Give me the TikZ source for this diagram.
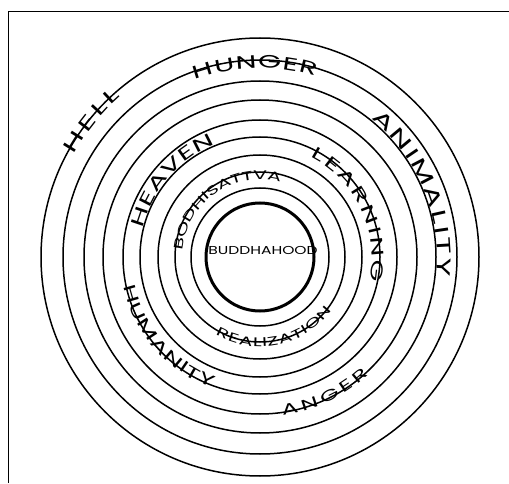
\documentclass[tikz,border=0pt]{standalone}
\usepackage{fontspec}
\usetikzlibrary{decorations.text}
\newfontfamily\ringfont{Poppins}[FakeStretch=1.65]
\newfontfamily\corefont{Poppins}[FakeStretch=1.35]
\tikzset{
  ring/.style={draw=black,line width=1.5pt},
  core/.style={draw=black,line width=3pt},
  frame/.style={draw=black,line width=1.5pt},
  arctext/.style={decorate,decoration={text along path,text align=fit to path,raise=#1}},
}

\begin{document}
\begin{tikzpicture}[x=1pt,y=1pt]
  \useasboundingbox (0,0) rectangle (509,483);
  \coordinate (c) at (260,226);
  \coordinate (fb) at (8.5,0);
  \coordinate (ft) at (8.5,471.5);
  \coordinate (fr) at (509,471.5);
  \draw[frame] (fb) -- (ft) -- (fr);
  % rings, outer to inner
  \foreach \r in {219,197,176,157,137,120,102,85,69}
    \draw[ring] (c) circle[radius=\r];
  \draw[core] (c) circle[radius=54];
  \node[font=\corefont\fontsize{11.5}{11.5}\selectfont] (bud) at (263,233) {BUDDHAHOOD};
  % labels read clockwise over the top
  \path[arctext=-6.5pt,decoration={text={|\ringfont\fontsize{19}{19}\selectfont|HELL}}]
    (c) ++(151:219) arc[start angle=151,end angle=131,radius=219];
  \path[arctext=-6pt,decoration={text={|\ringfont\fontsize{18}{18}\selectfont|HUNGER}}]
    (c) ++(110:195) arc[start angle=110,end angle=73,radius=195];
  \path[arctext=-7pt,decoration={text={|\ringfont\fontsize{19.5}{19.5}\selectfont|ANIMALITY}}]
    (c) ++(51:184) arc[start angle=51,end angle=-6,radius=184];
  \path[arctext=-6pt,decoration={text={|\ringfont\fontsize{18}{18}\selectfont|HEAVEN}}]
    (c) ++(166:127) arc[start angle=166,end angle=112,radius=127];
  \path[arctext=-6pt,decoration={text={|\ringfont\fontsize{17}{17}\selectfont|LEARNING}}]
    (c) ++(63:118) arc[start angle=63,end angle=-12,radius=118];
  \path[arctext=-4.5pt,decoration={text={|\ringfont\fontsize{12.5}{12.5}\selectfont|BODHISATTVA}}]
    (c) ++(175:82) arc[start angle=175,end angle=75,radius=82];
  % labels read anticlockwise under the bottom
  \path[arctext=-5.5pt,decoration={text={|\ringfont\fontsize{16.5}{16.5}\selectfont|HUMANITY}}]
    (c) ++(192:134) arc[start angle=192,end angle=247,radius=134];
  \path[arctext=-4.5pt,decoration={text={|\ringfont\fontsize{12.5}{12.5}\selectfont|REALIZATION}}]
    (c) ++(240:85) arc[start angle=240,end angle=324,radius=85];
  \path[arctext=-5pt,decoration={text={|\ringfont\fontsize{15}{15}\selectfont|ANGER}}]
    (c) ++(278:155) arc[start angle=278,end angle=313,radius=155];
\end{tikzpicture}
\end{document}
